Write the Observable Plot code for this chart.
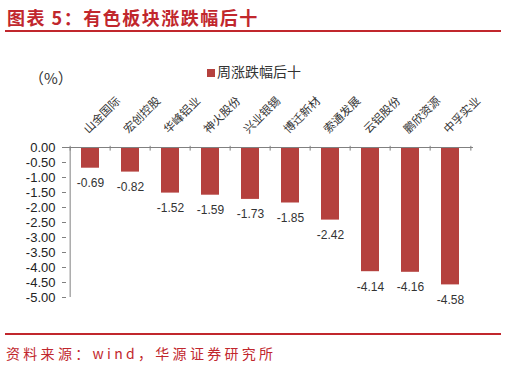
<!DOCTYPE html>
<html><head><meta charset="utf-8">
<script src="https://cdn.jsdelivr.net/npm/d3@7"></script>
<script src="https://cdn.jsdelivr.net/npm/@observablehq/plot@0.6"></script>
<style>
html,body{margin:0;padding:0;background:#fff;}
#wrap{position:relative;width:506px;height:368px;overflow:hidden;background:#fff;font-family:"Liberation Sans",Arial,sans-serif;}
.abs{position:absolute;white-space:nowrap;}
#title{left:7px;top:5px;font-family:"Noto Sans CJK SC",sans-serif;font-weight:bold;font-size:18px;color:#c1272d;letter-spacing:1.5px;line-height:24px;}
.rule{position:absolute;left:5px;width:496px;height:2px;background:#c1272d;}
#legend{left:207px;top:61px;font-family:"Noto Sans CJK SC",sans-serif;font-size:14px;color:#333;line-height:20px;}
#legend span.sw{display:inline-block;width:8px;height:8px;background:#b5413e;margin-right:2px;vertical-align:0px;}
#unit{left:29px;top:68px;font-family:"Noto Sans CJK SC",sans-serif;font-size:15px;color:#333;line-height:20px;}
#caption{left:6px;top:343px;font-family:"Noto Sans CJK SC",sans-serif;font-size:14px;color:#c1272d;letter-spacing:3.3px;line-height:20px;}
#plot{position:absolute;left:0;top:40px;}
#plot g[aria-label="category"] text{letter-spacing:2px;}
</style></head>
<body>
<div id="wrap">
  <div id="title" class="abs">图表 5：有色板块涨跌幅后十</div>
  <div class="rule" style="top:30px"></div>
  <div id="plot"></div>
  <div id="legend" class="abs"><span class="sw"></span>周涨跌幅后十</div>
  <div id="unit" class="abs">（%）</div>
  <div class="rule" style="top:333px"></div>
  <div id="caption" class="abs">资料来源：wind，华源证券研究所</div>
</div>
<script>
const categories = ["山金国际","宏创控股","华峰铝业","神火股份","兴业银锡","博迁新材","索通发展","云铝股份","鹏欣资源","中孚实业"];
const values = [-0.69,-0.82,-1.52,-1.59,-1.73,-1.85,-2.42,-4.14,-4.16,-4.58];
const yTicks = [0,-0.5,-1,-1.5,-2,-2.5,-3,-3.5,-4,-4.5,-5];
const seriesName = "周涨跌幅后十";

const data = categories.map((c,i)=>({cat:c, v:values[i]}));
const W = 506, H = 280, mL = 66, mR = 33;
const step = (W - mL - mR) / categories.length;
const barColor = "#b5413e";
const axisColor = "#808080";

const chart = Plot.plot({
  width: W, height: H,
  marginLeft: mL, marginRight: mR, marginTop: 107, marginBottom: 23,
  style: {background: "transparent", fontFamily: "'Liberation Sans', Arial, sans-serif", color: "#222"},
  x: {domain: categories, paddingInner: 0.55, paddingOuter: 0.275, axis: null},
  y: {domain: [-5, 0], axis: null, label: null},
  marks: [
    Plot.barY(data, {x: "cat", y: "v", fill: barColor}),
    Plot.ruleY([0], {stroke: axisColor, strokeWidth: 1}),
    Plot.ruleX([categories[0]], {y1: -5, y2: 0, dx: -step/2, stroke: axisColor}),
    Plot.ruleX(categories, {y1: 0.04, y2: -0.12, dx: -step/2, stroke: axisColor}),
    Plot.ruleX([categories[categories.length-1]], {y1: 0.04, y2: -0.12, dx: step/2, stroke: axisColor}),
    Plot.axisY({ticks: yTicks, tickFormat: d => d.toFixed(2), tickSize: 4, tickPadding: 7, fontSize: 13, stroke: axisColor, color: "#222", anchor: "left", label: null}),
    Plot.text(data, {x: "cat", y: "v", text: d => d.v.toFixed(2), dy: 15, fontSize: 12, fill: "#333"}),
    Plot.text(categories, {x: d => d, y: () => 0, rotate: -45, textAnchor: "start", dx: -4.5, dy: -16, fontSize: 11.5, fill: "#333", fontFamily: "'Noto Sans CJK SC', sans-serif", ariaLabel: "category"})
  ]
});
document.getElementById("plot").appendChild(chart);
</script>
</body></html>
